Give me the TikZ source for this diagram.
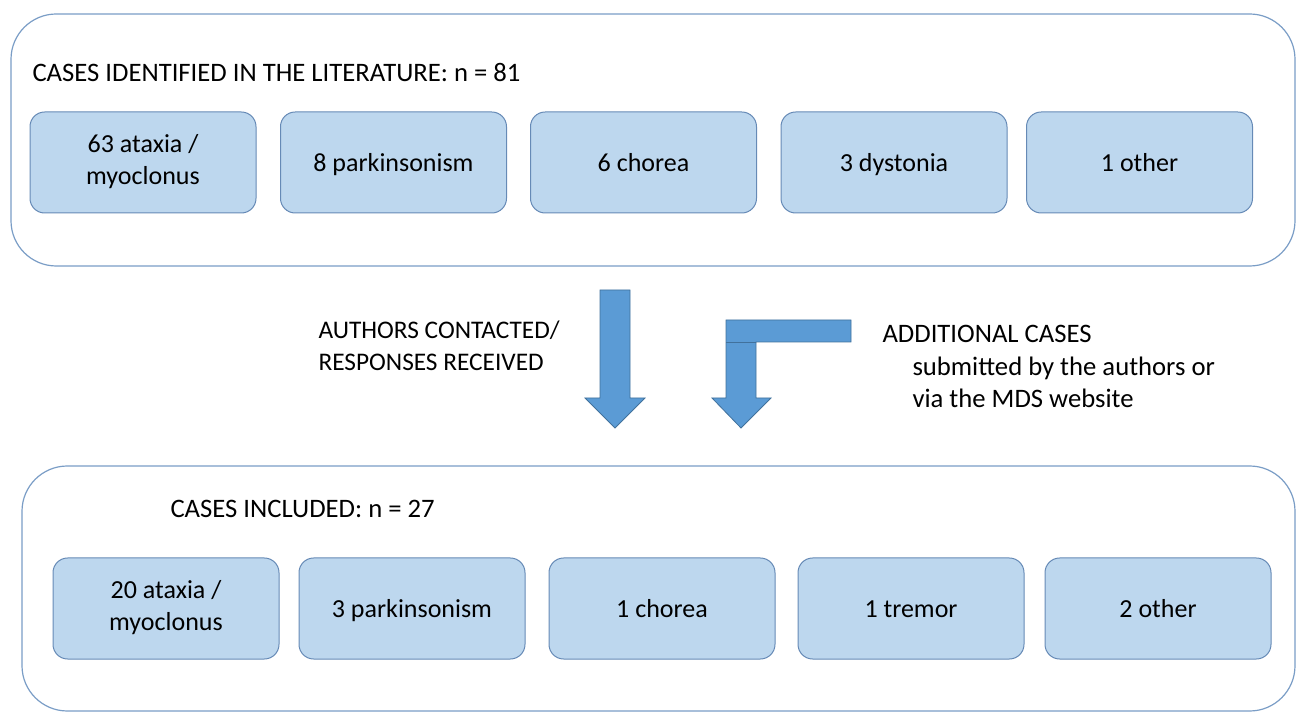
\documentclass[tikz,border=0pt]{standalone}
\usepackage{fontspec}
\setmainfont{Carlito}
\newcommand\boxstrut{\rule[-5pt]{0pt}{24pt}}
\tikzset{every picture/.style={line width=0.75pt}}
\tikzset{
  panel/.style={draw={rgb,255:red,122;green,157;blue,198}, line width=0.9pt, rounded corners=34pt},
  casebox/.style={draw={rgb,255:red,102;green,138;blue,182}, fill={rgb,255:red,189;green,215;blue,238},
    rounded corners=11pt, minimum width=169.5pt, minimum height=75.75pt, inner sep=0pt,
    align=center, font=\fontsize{19.5}{24}\selectfont,
    execute at begin node=\boxstrut, execute at end node=\boxstrut},
  heading/.style={anchor=west, inner sep=0.75pt, font=\fontsize{20}{24}\selectfont, align=left},
  blockarrow/.style={draw={rgb,255:red,65;green,113;blue,156}, fill={rgb,255:red,91;green,155;blue,213}, line width=0.6pt}
}
\begin{document}
\begin{tikzpicture}[x=0.75pt,y=0.75pt,yscale=-1,xscale=1]
\useasboundingbox (0,0) rectangle (1296,712);
%Panel: literature
\draw [panel] (11,14) rectangle (1295,266);
%Panel: included
\draw [panel] (22,466) rectangle (1295,711);
% Text Node
\node [heading] (found) at (31,73) {CASES IDENTIFIED IN THE LITERATURE: n = 81};
% Row of identified cases
\node [casebox] (lit1) at (143,162.5) {63 ataxia /\\myoclonus};
\node [casebox] (lit2) at (393.5,162.5) {8 parkinsonism};
\node [casebox] (lit3) at (643.5,162.5) {6 chorea};
\node [casebox] (lit4) at (894,162.5) {3 dystonia};
\node [casebox] (lit5) at (1139.5,162.5) {1 other};
%Block arrow: straight down
\draw [blockarrow] (600,290) -- (630,290) -- (630,398) -- (645,398) -- (615,428) -- (585,398) -- (600,398) -- cycle;
%Block arrow: bent
\draw [blockarrow] (851,320) -- (851,342) -- (756,342) -- (756,398) -- (771,398) -- (741,428) -- (712,398) -- (726,398) -- (726,320) -- cycle;
\draw [blockarrow] (726,342) -- (756,342);
% Text Node
\node [heading, font=\fontsize{19}{24}\selectfont] (asked) at (317,346) {AUTHORS CONTACTED/\\RESPONSES RECEIVED};
% Text Node
\node [heading] (extra) at (881,334) {ADDITIONAL CASES};
\node [heading] (extradesc) at (911,382) {submitted by the authors or\\via the MDS website};
% Text Node
\node [heading] (kept) at (169,509) {CASES INCLUDED: n = 27};
% Row of included cases
\node [casebox] (inc1) at (166,608.5) {20 ataxia /\\myoclonus};
\node [casebox] (inc2) at (412,608.5) {3 parkinsonism};
\node [casebox] (inc3) at (662,608.5) {1 chorea};
\node [casebox] (inc4) at (911,608.5) {1 tremor};
\node [casebox] (inc5) at (1158,608.5) {2 other};
\end{tikzpicture}
\end{document}
